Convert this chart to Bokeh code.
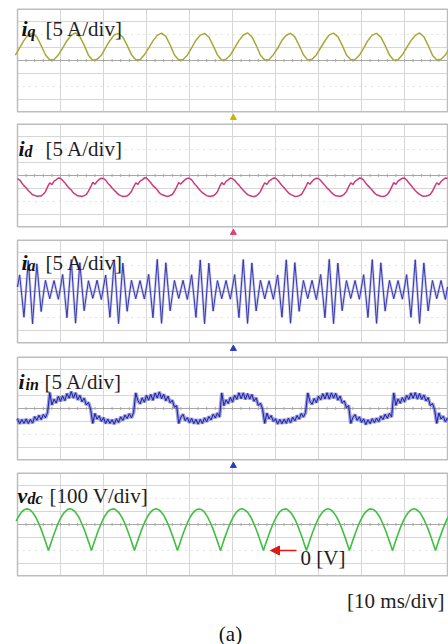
from bokeh.plotting import figure
from bokeh.models import Range1d, Arrow, NormalHead, Label
from bokeh.embed import file_html
from bokeh.resources import INLINE

# ---------------- data (values in screen divisions, time in ms) ----------------
IQ_T0, IQ_DT = -0.5, 1.0
iq = [0.42,
      0.97, 1.55, 1.96, 2.10, 1.82, 1.15, 0.44, 0.04, 0.07, 0.43,
      0.95, 1.52, 1.94, 2.12, 1.84, 1.18, 0.41, 0.02, 0.09, 0.40,
      0.99, 1.54, 1.97, 2.08, 1.80, 1.16, 0.45, 0.05, 0.06, 0.44,
      0.96, 1.51, 1.93, 2.11, 1.85, 1.19, 0.42, 0.03, 0.08, 0.41,
      0.98, 1.56, 1.95, 2.09, 1.81, 1.14, 0.43, 0.02, 0.10, 0.42,
      0.97, 1.53, 1.96, 2.13, 1.83, 1.17, 0.40, 0.04, 0.07, 0.45,
      0.94, 1.55, 1.94, 2.10, 1.82, 1.16, 0.44, 0.03, 0.09, 0.43,
      0.98, 1.52, 1.97, 2.11, 1.84, 1.18, 0.42, 0.05, 0.08, 0.40,
      0.96, 1.54, 1.95, 2.09, 1.80, 1.15, 0.43, 0.02, 0.06, 0.44,
      0.99, 1.53, 1.93, 2.12, 1.83, 1.17, 0.41, 0.04, 0.09, 0.42,
      0.97]

ID_T0, ID_DT = 0.0, 0.5
i_d = [-0.24, -0.35, -0.58, -0.78, -0.94, -1.15, -1.31, -1.48, -1.53, -1.6, -1.58, -1.57, -1.44, -1.24, -0.86, -0.56, -0.7, -0.44, -0.33, -0.19,
       -0.21, -0.38, -0.55, -0.77, -0.97, -1.12, -1.34, -1.45, -1.56, -1.58, -1.62, -1.55, -1.47, -1.2, -0.9, -0.53, -0.67, -0.46, -0.3, -0.21,
       -0.23, -0.36, -0.59, -0.75, -0.96, -1.14, -1.3, -1.47, -1.55, -1.61, -1.59, -1.57, -1.43, -1.23, -0.87, -0.57, -0.69, -0.43, -0.34, -0.18,
       -0.2, -0.37, -0.56, -0.78, -0.93, -1.12, -1.33, -1.46, -1.52, -1.58, -1.61, -1.54, -1.46, -1.21, -0.89, -0.54, -0.66, -0.47, -0.31, -0.22,
       -0.22, -0.34, -0.57, -0.76, -0.96, -1.15, -1.32, -1.44, -1.55, -1.6, -1.6, -1.56, -1.45, -1.25, -0.86, -0.55, -0.7, -0.45, -0.33, -0.2,
       -0.24, -0.37, -0.58, -0.74, -0.95, -1.13, -1.31, -1.47, -1.54, -1.59, -1.62, -1.57, -1.44, -1.22, -0.88, -0.56, -0.68, -0.44, -0.32, -0.19,
       -0.21, -0.35, -0.56, -0.77, -0.94, -1.14, -1.33, -1.45, -1.53, -1.61, -1.59, -1.55, -1.46, -1.2, -0.9, -0.54, -0.67, -0.46, -0.3, -0.21,
       -0.23, -0.38, -0.57, -0.76, -0.97, -1.12, -1.3, -1.46, -1.56, -1.58, -1.6, -1.56, -1.43, -1.24, -0.87, -0.57, -0.69, -0.45, -0.34, -0.2,
       -0.22, -0.36, -0.59, -0.78, -0.95, -1.13, -1.34, -1.48, -1.54, -1.6, -1.61, -1.57, -1.47, -1.23, -0.89, -0.55, -0.68, -0.43, -0.31, -0.22,
       -0.2, -0.35, -0.56, -0.75, -0.96, -1.15, -1.32, -1.45, -1.55, -1.59, -1.58, -1.54, -1.45, -1.21, -0.88, -0.56, -0.7, -0.46, -0.32, -0.19,
       -0.23]

IA_T0, IA_DT = 0.0, 0.5
i_a = [0.35, 1.28, -0.32, -1.97, 0.18, 2.38, 0.02, -2.49, -0.12, 2.13, 0.28, -1.54, -0.28, 0.86, 0.14, -0.56, 0.16, 0.84, 0.1, -0.6,
       0.33, 1.31, -0.3, -2.02, 0.21, 2.46, -0.02, -2.44, -0.09, 2.22, 0.31, -1.48, -0.31, 0.83, 0.16, -0.53, 0.14, 0.87, 0.09, -0.62,
       0.36, 1.27, -0.29, -1.99, 0.19, 2.44, 0.01, -2.47, -0.11, 2.19, 0.29, -1.52, -0.29, 0.86, 0.15, -0.56, 0.15, 0.84, 0.11, -0.58,
       0.34, 1.32, -0.31, -2.03, 0.22, 2.47, -0.01, -2.45, -0.1, 2.21, 0.3, -1.49, -0.3, 0.85, 0.14, -0.54, 0.16, 0.86, 0.1, -0.61,
       0.35, 1.29, -0.3, -2.0, 0.2, 2.43, 0.0, -2.48, -0.09, 2.18, 0.32, -1.51, -0.28, 0.84, 0.16, -0.55, 0.14, 0.85, 0.09, -0.59,
       0.37, 1.3, -0.32, -2.01, 0.18, 2.46, 0.02, -2.46, -0.12, 2.2, 0.29, -1.5, -0.31, 0.87, 0.15, -0.57, 0.15, 0.83, 0.11, -0.6,
       0.34, 1.28, -0.29, -1.98, 0.21, 2.44, -0.01, -2.44, -0.1, 2.22, 0.31, -1.53, -0.29, 0.85, 0.14, -0.55, 0.16, 0.86, 0.1, -0.62,
       0.35, 1.31, -0.31, -2.02, 0.19, 2.47, 0.01, -2.47, -0.11, 2.19, 0.3, -1.48, -0.3, 0.84, 0.16, -0.54, 0.15, 0.85, 0.09, -0.6,
       0.36, 1.29, -0.3, -2.0, 0.2, 2.45, 0.0, -2.45, -0.09, 2.21, 0.28, -1.51, -0.28, 0.86, 0.15, -0.56, 0.14, 0.84, 0.11, -0.59,
       0.34, 1.3, -0.3, -1.99, 0.2, 2.44, 0.01, -2.46, -0.1, 2.2, 0.3, -1.5, -0.3, 0.85, 0.15, -0.55, 0.15, 0.85, 0.1, -0.61,
       0.35]

IIN_T0, IIN_DT = 0.0, 0.5
i_in = [-0.77, -1.18, -0.84, -1.15, -0.8, -1.16, -0.83, -1.12, -0.62, -0.91, -0.52, -0.86, -0.46, -0.72, -0.3,
        1.2, 0.27, 0.72, 0.42, 0.93, 0.55, 0.97, 0.6, 1.15, 0.79, 1.3, 0.8, 1.21, 0.66, 1.02, 0.52, 0.8, 0.27, 0.47, -0.04,
        -1.15, -0.38, -0.82, -0.56, -0.99, -0.7, -1.16, -0.82, -1.15, -0.86, -1.2, -0.79, -1.08, -0.64, -0.92, -0.5, -0.78, -0.4, -0.72, -0.31,
        1.2, 0.6, 0.36, 0.82, 0.48, 1.01, 0.64, 1.08, 0.63, 1.19, 0.8, 1.28, 0.75, 1.1, 0.59, 0.94, 0.44, 0.64, 0.1, 0.22,
        -1.15, -0.66, -0.44, -0.94, -0.7, -1.1, -0.76, -1.16, -0.83, -1.2, -0.83, -1.15, -0.72, -1.02, -0.62, -0.88, -0.44, -0.73, -0.34, -0.66,
        1.2, 0.22, 0.67, 0.38, 0.86, 0.49, 1.02, 0.7, 1.21, 0.75, 1.2, 0.7, 1.15, 0.72, 1.08, 0.56, 0.82, 0.22, 0.41, -0.06,
        -1.15, -0.35, -0.8, -0.54, -1.0, -0.78, -1.2, -0.84, -1.17, -0.82, -1.14, -0.75, -1.1, -0.67, -0.96, -0.54, -0.82, -0.38, -0.66, -0.3,
        1.2, 0.56, 0.32, 0.78, 0.44, 0.95, 0.66, 1.14, 0.73, 1.21, 0.72, 1.2, 0.79, 1.17, 0.64, 0.96, 0.42, 0.58, 0.05, 0.23,
        -1.15, -0.7, -0.47, -0.92, -0.64, -1.07, -0.8, -1.24, -0.87, -1.16, -0.78, -1.09, -0.74, -1.02, -0.58, -0.85, -0.44, -0.76, -0.37, -0.66,
        1.2, 0.24, 0.74, 0.4, 0.84, 0.51, 1.02, 0.7, 1.19, 0.77, 1.22, 0.72, 1.15, 0.7, 1.04, 0.58, 0.84, 0.22, 0.39, -0.08,
        -1.15, -0.34, -0.82, -0.59, -1.02, -0.72]

VDC_T0, VDC_DT = -0.3, 0.5
v_dc = [0.26, 0.59, 0.85, 1.04, 1.16, 1.2, 1.16, 1.04, 0.85, 0.59, 0.26, -0.12, -0.55, -1.01, -1.5,
        -2.0, -1.51, -1.0, -0.56, -0.11, 0.27, 0.58, 0.86, 1.03, 1.17, 1.21, 1.15, 1.05, 0.84, 0.6, 0.25, -0.13, -0.54, -1.02, -1.49,
        -2.01, -1.49, -1.02, -0.54, -0.13, 0.25, 0.6, 0.84, 1.05, 1.15, 1.2, 1.17, 1.03, 0.86, 0.58, 0.27, -0.11, -0.56, -1.0, -1.51,
        -1.99, -1.5, -1.01, -0.55, -0.12, 0.26, 0.59, 0.85, 1.04, 1.16, 1.22, 1.16, 1.04, 0.85, 0.59, 0.26, -0.12, -0.55, -1.01, -1.5,
        -2.0, -1.52, -1.0, -0.54, -0.12, 0.27, 0.6, 0.85, 1.03, 1.16, 1.19, 1.16, 1.05, 0.84, 0.59, 0.25, -0.13, -0.55, -1.01, -1.49,
        -2.01, -1.5, -1.01, -0.56, -0.11, 0.26, 0.58, 0.86, 1.04, 1.17, 1.21, 1.15, 1.04, 0.86, 0.6, 0.26, -0.12, -0.54, -1.02, -1.5,
        -2.0, -1.49, -1.02, -0.55, -0.13, 0.25, 0.59, 0.84, 1.05, 1.15, 1.2, 1.17, 1.03, 0.85, 0.58, 0.27, -0.11, -0.56, -1.0, -1.51,
        -1.99, -1.51, -1.0, -0.54, -0.12, 0.27, 0.6, 0.85, 1.04, 1.16, 1.21, 1.16, 1.04, 0.84, 0.59, 0.26, -0.12, -0.55, -1.01, -1.5,
        -2.0, -1.5, -1.01, -0.56, -0.11, 0.26, 0.58, 0.86, 1.03, 1.17, 1.2, 1.15, 1.05, 0.85, 0.6, 0.25, -0.13, -0.54, -1.02, -1.49,
        -2.01, -1.5, -1.01, -0.55, -0.12, 0.26, 0.59, 0.85, 1.04, 1.16, 1.22, 1.16, 1.04, 0.86, 0.59, 0.26, -0.12, -0.55, -1.0, -1.5,
        -2.0, -1.5, -1.01, -0.55, -0.12, 0.26, 0.59]

names = ["i", "i", "i", "i", "v"]
subs = ["q", "d", "a", "in", "dc"]
units = ["[5 A/div]", "[5 A/div]", "[5 A/div]", "[5 A/div]", "[100 V/div]"]
colors = ["#a8a838", "#d0387c", "#3636ae", "#1c22a4", "#40bf40"]
widths = [1.5, 1.5, 1.0, 1.0, 1.6]
halo_colors = [None, None, "#9c9cdc", "#4a50c0", None]
halo_widths = [0, 0, 2.6, 3.6, 0]
halo_alpha = [0, 0, 0.55, 0.55, 0]
time_div = "[10 ms/div]"
caption = "(a)"
zero_label = "0 [V]"

# ---------------- layout constants (pixels) ----------------
W, H = 448, 644
LEFT = 17
PX_MS = 4.3
PX_DIV = 13.0
centers = [60, 175, 291, 408, 524]
HALF = 3.95           # panel half height in divisions
name_x = [21, 18, 21, 18, 17]
sub_x = [27, 24, 27, 25, 27]
unit_x = [45, 45, 45, 44, 49]
base_y = [28, 148, 262, 381, 495]
trig_colors = ["#d4b000", "#e0407a", "#2a3cc0", "#2a3cc0"]

p = figure(width=W, height=H, x_range=Range1d(0, W), y_range=Range1d(H, 0),
           output_backend="svg", toolbar_location=None, min_border=0,
           x_axis_location=None, y_axis_location=None, outline_line_color=None,
           background_fill_color="white", border_fill_color="white")
p.grid.visible = False
p.extra_x_ranges = {"t": Range1d(-LEFT / PX_MS, (W - LEFT) / PX_MS)}
for k, c in enumerate(centers):
    p.extra_y_ranges[f"p{k}"] = Range1d((c - H) / PX_DIV, c / PX_DIV)

GRID = "#d6d6d6"
# centre vertical line through all panels
p.segment(x0=[LEFT + 50 * PX_MS], x1=[LEFT + 50 * PX_MS], y0=[centers[0] - HALF * PX_DIV],
          y1=[centers[-1] + HALF * PX_DIV], line_color=GRID, line_width=1)

series = [(iq, IQ_T0, IQ_DT), (i_d, ID_T0, ID_DT), (i_a, IA_T0, IA_DT),
          (i_in, IIN_T0, IIN_DT), (v_dc, VDC_T0, VDC_DT)]

for k in range(5):
    yr = f"p{k}"
    kw = dict(x_range_name="t", y_range_name=yr)
    vt = [10 * j for j in range(11)]
    p.segment(x0=vt, x1=vt, y0=[-HALF] * 11, y1=[HALF] * 11, line_color=GRID, line_width=1, **kw)
    hs = [-3, -1, 1, 3]
    p.segment(x0=[0] * 4, x1=[100] * 4, y0=hs, y1=hs, line_color=GRID, line_width=1, **kw)
    hd = [-2, 2]
    p.segment(x0=[0] * 2, x1=[100] * 2, y0=hd, y1=hd, line_color="#c8c8c8", line_width=1,
              line_dash="1 5", **kw)
    # centre axis with ticks
    p.segment(x0=[0], x1=[100], y0=[0], y1=[0], line_color="#a8a8a8", line_width=1, **kw)
    tt = [2 * j for j in range(1, 50)]
    p.segment(x0=tt, x1=tt, y0=[-0.12] * len(tt), y1=[0.12] * len(tt), line_color="#a8a8a8",
              line_width=1, **kw)
    p.quad(left=[0], right=[100], bottom=[-HALF], top=[HALF], fill_color=None,
           line_color="#bdbdbd", line_width=1.5, **kw)
    vals, t0, dt = series[k]
    ts = [t0 + dt * i for i in range(len(vals))]
    if halo_colors[k]:
        p.line(ts, vals, line_color=halo_colors[k], line_width=halo_widths[k],
               line_alpha=halo_alpha[k], **kw)
    p.line(ts, vals, line_color=colors[k], line_width=widths[k], **kw)

    # labels
    p.add_layout(Label(x=name_x[k], y=base_y[k], text=names[k], text_font="Liberation Serif",
                       text_font_style="bold italic", text_font_size="22px",
                       text_baseline="alphabetic", text_color="#111111"))
    p.add_layout(Label(x=sub_x[k], y=base_y[k] + 3, text=subs[k], text_font="Liberation Serif",
                       text_font_style="bold italic", text_font_size="16px",
                       text_baseline="alphabetic", text_color="#111111"))
    p.add_layout(Label(x=unit_x[k], y=base_y[k], text=units[k], text_font="Liberation Serif",
                       text_font_size="21px", text_baseline="alphabetic", text_color="#1e1e1e"))

# trigger markers between panels
for k in range(4):
    p.scatter(x=[50.2], y=[-(HALF + 0.45)], marker="triangle", size=6,
              fill_color=trig_colors[k], line_color=trig_colors[k],
              x_range_name="t", y_range_name=f"p{k}")

# 0 V marker on the v_dc trace
p.add_layout(Arrow(end=NormalHead(size=9, fill_color="#e01818", line_color="#e01818"),
                   x_start=296, y_start=550, x_end=270, y_end=550,
                   line_color="#e01818", line_width=1.6))
p.add_layout(Label(x=300, y=557, text=zero_label, text_font="Liberation Serif",
                   text_font_size="21px", text_baseline="alphabetic", text_color="#1e1e1e"))
p.add_layout(Label(x=444, y=600, text=time_div, text_font="Liberation Serif",
                   text_font_size="21px", text_baseline="alphabetic", text_align="right",
                   text_color="#1e1e1e"))
p.add_layout(Label(x=230, y=633, text=caption, text_font="Liberation Serif",
                   text_font_size="21px", text_baseline="alphabetic", text_align="center",
                   text_color="#111111"))

open("out.html", "w").write(file_html(p, INLINE))
